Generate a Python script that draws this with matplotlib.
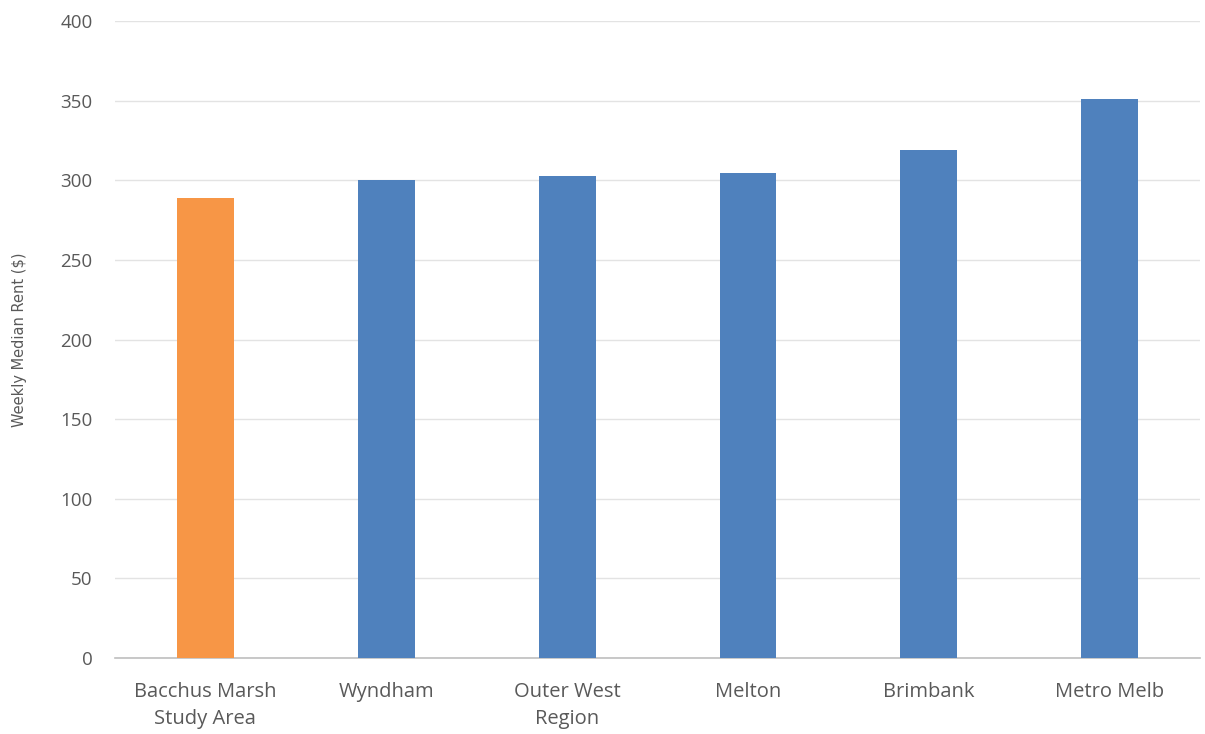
import matplotlib
matplotlib.use("Agg")
import matplotlib.pyplot as plt

# Weekly median rent by area
areas = ["Bacchus Marsh\nStudy Area", "Wyndham", "Outer West\nRegion", "Melton", "Brimbank", "Metro Melb"]
rent = [289, 300, 303, 305, 319, 351]
colors = ["#F79646", "#4F81BD", "#4F81BD", "#4F81BD", "#4F81BD", "#4F81BD"]
y_ticks = [0, 50, 100, 150, 200, 250, 300, 350, 400]

fig = plt.figure(figsize=(12.05, 7.34), dpi=100)
ax = fig.add_axes([0.0954, 0.1035, 0.9006, 0.8675])

x = range(len(areas))
ax.bar(x, rent, width=0.315, color=colors, zorder=3)

ax.set_ylim(0, 400)
ax.set_xlim(-0.5, len(areas) - 0.5)
ax.set_yticks(y_ticks)
ax.grid(axis="y", color="#E3E3E3", linewidth=1.0, zorder=0)

for side in ["top", "right", "left"]:
    ax.spines[side].set_visible(False)
ax.spines["bottom"].set_color("#BFBFBF")
ax.spines["bottom"].set_linewidth(1.2)

ax.set_xticks(list(x))
ax.set_xticklabels(areas, fontsize=14.5, color="#595959", family="Open Sans",
                   linespacing=1.5)
ax.tick_params(axis="x", length=0, pad=17)
ax.tick_params(axis="y", length=0, pad=16, labelsize=13.5, labelcolor="#595959")
for lbl in ax.get_yticklabels():
    lbl.set_family("Open Sans")

ax.set_ylabel("Weekly Median Rent ($)", fontsize=10.5, color="#595959", labelpad=24)

fig.savefig("out.png", dpi=100)
